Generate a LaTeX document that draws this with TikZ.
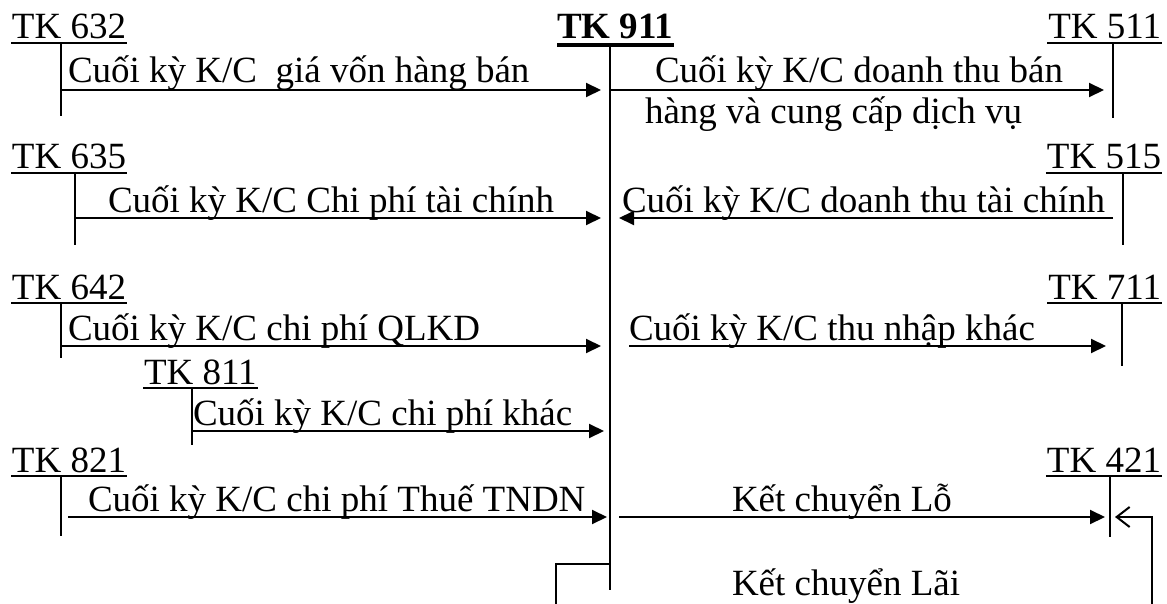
\documentclass[tikz,border=0pt]{standalone}
\usepackage{fontspec}
\setmainfont{Liberation Serif}
\usetikzlibrary{arrows.meta,calc}
\begin{document}
\begin{tikzpicture}[x=1pt,y=-1pt,
  every node/.style={inner sep=0pt, outer sep=0pt, font=\fontsize{37}{44}\selectfont},
  acct/.style={anchor=base west},
  acctr/.style={anchor=base east},
  lab/.style={anchor=base west},
  tline/.style={line width=2pt},
  flow/.style={line width=2pt, -{Triangle[length=15pt,width=14pt]}},
  openflow/.style={line width=2pt, -{Straight Barb[length=13pt,width=20pt,line width=2pt]}},
]
\useasboundingbox (0,0) rectangle (1167,604);

% ---------- account labels ----------
\node[acct] (a632) at (12,39) {TK 632};
\node[acct] (a911) at (557,39) {\bfseries TK 911};
\node[acctr] (a511) at (1161,39) {TK 511};
\node[acct] (a635) at (12,169) {TK 635};
\node[acctr] (a515) at (1161,169) {TK 515};
\node[acct] (a642) at (12,299) {TK 642};
\node[acctr] (a711) at (1161,299) {TK 711};
\node[acct] (a811) at (144,384) {TK 811};
\node[acct] (a821) at (12,472) {TK 821};
\node[acctr] (a421) at (1161,472) {TK 421};

\foreach \n in {632,511,635,515,642,711,811,821,421}{
  \draw[tline] ($(a\n.base west)+(-1,4)$) -- ($(a\n.base east)+(1,4)$);
}
\draw[line width=4pt] ($(a911.base west)+(0,6)$) -- ($(a911.base east)+(1,6)$);

% ---------- T-account lines ----------
\coordinate (v632a) at (61,43);   \coordinate (v632b) at (61,116);
\coordinate (v635a) at (75,173);  \coordinate (v635b) at (75,245);
\coordinate (v642a) at (61,303);  \coordinate (v642b) at (61,358);
\coordinate (v811a) at (192,388); \coordinate (v811b) at (192,445);
\coordinate (v821a) at (61,476);  \coordinate (v821b) at (61,536);
\coordinate (v511a) at (1113,43); \coordinate (v511b) at (1113,118);
\coordinate (v515a) at (1123,173);\coordinate (v515b) at (1123,245);
\coordinate (v711a) at (1122,303);\coordinate (v711b) at (1122,366);
\coordinate (v421a) at (1110,476);\coordinate (v421b) at (1110,537);
\coordinate (v911a) at (610,45);  \coordinate (v911b) at (610,590);
\foreach \n in {632,635,642,811,821,511,515,711,421,911}{
  \draw[tline] (v\n a) -- (v\n b);
}

% ---------- flows ----------
\coordinate (s1) at (61,90);    \coordinate (e1) at (601,90);
\coordinate (s2) at (610,90);   \coordinate (e2) at (1104,90);
\coordinate (s3) at (75,218);   \coordinate (e3) at (601,218);
\coordinate (s4) at (1113,218); \coordinate (e4) at (619,218);
\coordinate (s5) at (61,346);   \coordinate (e5) at (601,346);
\coordinate (s6) at (629,346);  \coordinate (e6) at (1106,346);
\coordinate (s7) at (192,431);  \coordinate (e7) at (604,431);
\coordinate (s8) at (68,517);   \coordinate (e8) at (607,517);
\coordinate (s9) at (619,517);  \coordinate (e9) at (1105,517);
\foreach \i in {1,...,9}{ \draw[flow] (s\i) -- (e\i); }

% profit transfer loop
\coordinate (p1) at (610,564);
\coordinate (p2) at (556,564);
\coordinate (p3) at (556,604);
\coordinate (q1) at (1152,604);
\coordinate (q2) at (1152,517);
\coordinate (q3) at (1115,517);
\draw[tline] (p1) -- (p2) -- (p3);
\draw[openflow] (q1) -- (q2) -- (q3);

% ---------- texts ----------
\node[lab] (t1) at (68,83) {Cuối kỳ K/C\ \ giá vốn hàng bán};
\node[lab] (t2) at (655,83) {Cuối kỳ K/C doanh thu bán};
\node[lab] (t2b) at (645,124) {hàng và cung cấp dịch vụ};
\node[lab] (t3) at (108,212) {Cuối kỳ K/C Chi phí tài chính};
\node[lab] (t4) at (622,212) {Cuối kỳ K/C doanh thu tài chính};
\node[lab] (t5) at (68,340) {Cuối kỳ K/C chi phí QLKD};
\node[lab] (t6) at (629,340) {Cuối kỳ K/C thu nhập khác};
\node[lab] (t7) at (193,425) {Cuối kỳ K/C chi phí khác};
\node[lab] (t8) at (88,511) {Cuối kỳ K/C chi phí Thuế TNDN};
\node[lab] (t9) at (732,511) {Kết chuyển Lỗ};
\node[lab] (t10) at (732,595) {Kết chuyển Lãi};
\end{tikzpicture}
\end{document}
